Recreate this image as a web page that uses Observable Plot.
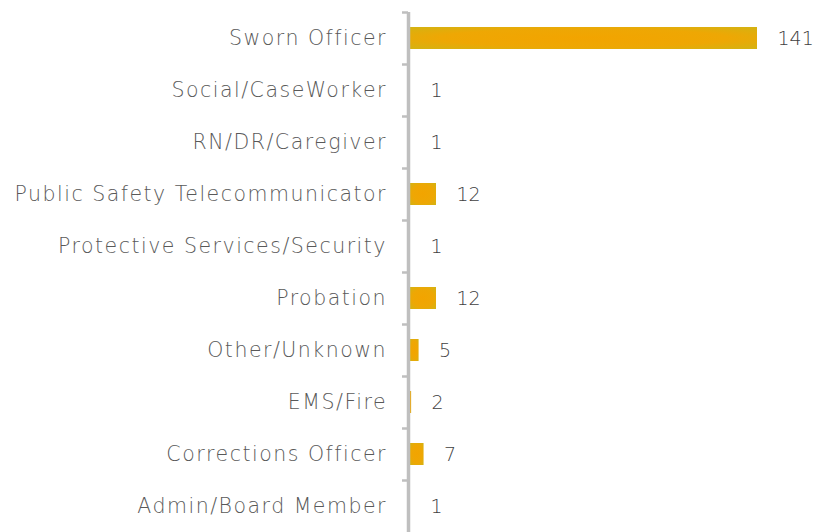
<!DOCTYPE html>
<html>
<head>
<meta charset="utf-8">
<script src="https://cdn.jsdelivr.net/npm/d3@7"></script>
<script src="https://cdn.jsdelivr.net/npm/@observablehq/plot@0.6"></script>
<style>
  html, body { margin: 0; padding: 0; background: #fff; }
  #chart svg { display: block; }
  #chart svg text { font-weight: 200; }
  #chart svg g[aria-label="y-axis tick label"] text { letter-spacing: 1.5px; }
</style>
</head>
<body>
<div id="chart"></div>
<script>
const categories = [
  "Sworn Officer",
  "Social/CaseWorker",
  "RN/DR/Caregiver",
  "Public Safety Telecommunicator",
  "Protective Services/Security",
  "Probation",
  "Other/Unknown",
  "EMS/Fire",
  "Corrections Officer",
  "Admin/Board Member"
];
const counts = [141, 1, 1, 12, 1, 12, 5, 2, 7, 1];
const axisStart = 1.55; // value axis starts just above 1 in the original

const data = categories.map((c, i) => ({category: c, count: counts[i]}));

const font = "'DejaVu Sans', sans-serif";

const plot = Plot.plot({
  width: 815,
  height: 532,
  marginLeft: 410,
  marginRight: 58,
  marginTop: 12,
  marginBottom: 0,
  style: {fontFamily: font, fontSize: "20.5px", color: "#595959", background: "#fff"},
  x: {domain: [axisStart, 141], clamp: true, axis: null},
  y: {domain: categories, padding: 0, label: null},
  marks: [
    Plot.barX(data, {
      x1: () => axisStart, x2: "count", y: "category",
      insetTop: 15, insetBottom: 15,
      fill: "url(#barGrad)"
    }),
    Plot.ruleX([axisStart], {stroke: "#bfbfbf", strokeWidth: 3.5, dx: -2}),
    Plot.axisY({tickSize: 6, text: null, dy: -26, dx: -2, stroke: "#bfbfbf", strokeWidth: 2.5, strokeOpacity: 1}),
    Plot.axisY({tickSize: 0, tickPadding: 23.5, label: null, fill: "#595959", fontSize: 20.5}),
    Plot.text(data, {
      x: "count", y: "category", text: d => String(d.count),
      dx: 20, textAnchor: "start", fill: "#404040", fontSize: 19
    })
  ]
});

const svg = d3.select(plot);
const defs = svg.insert("defs", ":first-child");
const g = defs.append("radialGradient").attr("id", "barGrad")
  .attr("cx", "50%").attr("cy", "50%").attr("r", "75%");
g.append("stop").attr("offset", "0%").attr("stop-color", "#f2a400");
g.append("stop").attr("offset", "55%").attr("stop-color", "#eea704");
g.append("stop").attr("offset", "100%").attr("stop-color", "#cfb515");

document.getElementById("chart").appendChild(plot);
</script>
</body>
</html>
